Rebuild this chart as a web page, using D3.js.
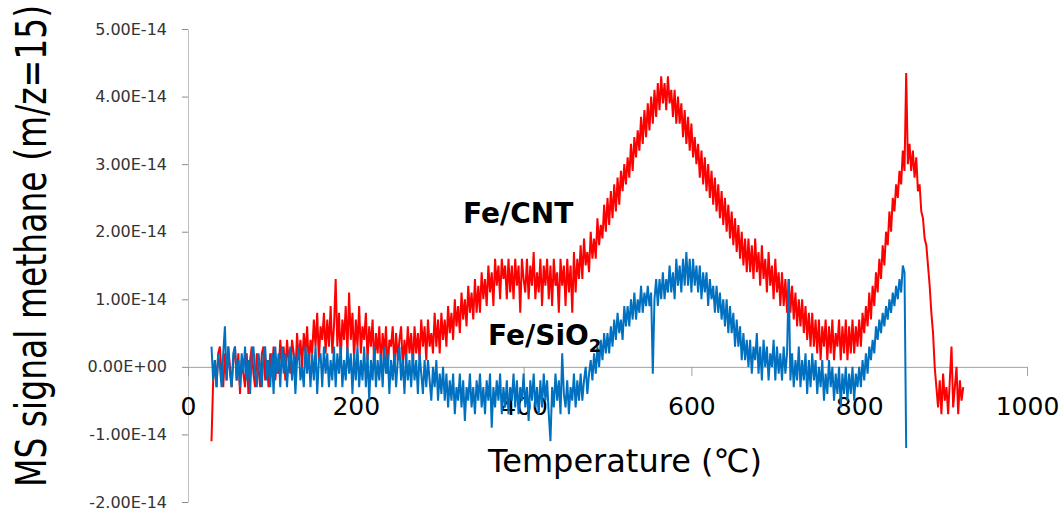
<!DOCTYPE html>
<html>
<head>
<meta charset="utf-8">
<script src="https://cdn.jsdelivr.net/npm/d3@7"></script>
<style>
  body { margin: 0; background: #fff; }
  svg { display: block; }
</style>
</head>
<body>
<svg id="chart"></svg>
<script>
// tick labels
const xTicks = [0, 200, 400, 600, 800, 1000];
const yTicks = [5, 4, 3, 2, 1, 0, -1, -2];
const yTickLabels = ["5.00E-14", "4.00E-14", "3.00E-14", "2.00E-14", "1.00E-14", "0.00E+00", "-1.00E-14", "-2.00E-14"];

// signal in units of 1E-14, read every 2 °C starting at 28 °C
const tempStart = 28, tempStep = 2;

const cntValues = [
  -1.1, -0.2, 0.1, -0.3, 0.2, 0.3, -0.1, -0.3, 0.2, -0.2, 0.3, 0.0, -0.3, 0.1, 0.3, -0.2, 0.2, -0.4, 0.1, -0.1,
  -0.3, 0.2, -0.4, 0.1, 0.3, -0.1, -0.3, 0.2, 0.0, -0.3, 0.2, 0.3, -0.2, 0.1, -0.3, 0.2, -0.1, 0.3, -0.2, 0.1,
  -0.1, 0.4, 0.0, 0.3, -0.2, 0.4, 0.1, -0.1, 0.4, 0.2, -0.1, 0.5, 0.1, 0.4, 0.0, 0.5, 0.2, 0.6, 0.0, 0.4,
  0.2, 0.7, 0.3, 0.8, 0.1, 0.6, 0.4, 0.8, 0.2, 0.7, 0.3, 0.9, 0.2, 0.6, 1.3, 0.3, 0.8, 0.1, 0.7, 0.4,
  0.9, 0.2, 1.1, 0.4, 0.8, 0.1, 0.7, 0.3, 0.9, 0.2, 0.6, 0.4, 0.8, 0.1, 0.6, 0.3, 0.7, 0.0, 0.5, 0.2,
  0.6, 0.0, 0.5, 0.2, 0.6, -0.1, 0.4, 0.3, 0.6, 0.0, 0.5, 0.1, 0.4, 0.6, 0.0, 0.4, 0.1, 0.6, 0.2, 0.5,
  0.0, 0.6, 0.2, 0.5, 0.1, 0.7, 0.3, 0.6, 0.1, 0.7, 0.3, 0.5, 0.2, 0.8, 0.3, 0.7, 0.2, 0.8, 0.4, 0.7,
  0.3, 0.9, 0.5, 0.8, 0.4, 1.0, 0.6, 0.9, 0.5, 1.1, 0.7, 1.0, 0.6, 1.2, 0.8, 1.1, 0.7, 1.3, 0.8, 1.2,
  0.8, 1.4, 1.0, 1.3, 0.9, 1.5, 1.1, 1.4, 0.9, 1.6, 1.2, 1.5, 1.0, 1.6, 1.3, 1.5, 1.0, 1.6, 1.1, 1.5,
  1.0, 1.6, 1.2, 1.5, 0.8, 1.6, 1.3, 1.1, 1.6, 1.0, 1.5, 1.2, 1.7, 1.0, 1.4, 1.1, 1.6, 0.9, 1.5, 1.2,
  1.6, 1.0, 1.5, 0.9, 1.6, 1.2, 1.4, 0.8, 1.6, 1.2, 1.5, 0.9, 1.6, 1.1, 1.5, 0.8, 1.7, 1.1, 1.6, 1.3,
  1.8, 1.3, 1.9, 1.5, 1.7, 1.4, 2.0, 1.6, 1.9, 1.6, 2.2, 1.8, 2.1, 1.9, 2.4, 2.0, 2.5, 2.1, 2.6, 2.2,
  2.7, 2.3, 2.8, 2.4, 2.9, 2.6, 3.0, 2.7, 3.1, 2.8, 3.3, 2.9, 3.4, 3.1, 3.5, 3.2, 3.7, 3.3, 3.8, 3.4,
  3.9, 3.5, 4.0, 3.6, 4.1, 3.7, 4.2, 3.8, 4.3, 3.9, 4.2, 3.8, 4.3, 3.9, 4.1, 3.7, 4.1, 3.6, 4.0, 3.6,
  3.9, 3.4, 3.8, 3.3, 3.7, 3.2, 3.6, 3.1, 3.4, 3.0, 3.3, 2.8, 3.2, 2.7, 3.1, 2.6, 3.0, 2.5, 2.9, 2.4,
  2.8, 2.3, 2.7, 2.2, 2.6, 2.1, 2.5, 2.0, 2.4, 1.9, 2.3, 1.8, 2.2, 1.7, 2.1, 1.6, 2.0, 1.5, 1.9, 1.4,
  1.9, 1.4, 1.8, 1.3, 1.9, 1.4, 1.7, 1.2, 1.8, 1.3, 1.6, 1.1, 1.7, 1.2, 1.5, 1.0, 1.6, 1.1, 1.4, 0.9,
  1.4, 0.9, 1.3, 0.8, 1.3, 0.8, 1.2, 0.7, 1.1, 0.6, 1.0, 0.6, 1.0, 0.5, 0.9, 0.4, 0.8, 0.3, 0.8, 0.3,
  0.7, 0.2, 0.7, 0.1, 0.6, 0.3, 0.7, 0.1, 0.6, 0.2, 0.7, 0.1, 0.5, 0.3, 0.7, 0.1, 0.6, 0.2, 0.7, 0.1,
  0.6, 0.2, 0.7, 0.2, 0.6, 0.3, 0.7, 0.3, 0.8, 0.5, 0.9, 0.6, 1.1, 0.7, 1.2, 0.9, 1.4, 1.1, 1.6, 1.3,
  1.8, 1.5, 2.0, 1.8, 2.3, 2.0, 2.5, 2.3, 2.7, 2.5, 2.9, 2.7, 3.2, 2.9, 4.35, 3.0, 3.3, 2.9, 3.2, 2.8,
  3.1, 2.6, 2.7, 2.3, 2.2, 1.9, 1.8, 1.5, 1.2, 0.8, 0.5, 0.0, -0.3, -0.6, -0.2, -0.7, -0.1, -0.5, -0.3, -0.7,
  -0.2, 0.3, -0.6, -0.3, 0.0, -0.7, -0.2, -0.5, -0.3
];

const sioValues = [
  0.3, -0.2, 0.1, -0.3, 0.2, 0.0, -0.3, 0.2, 0.6, -0.2, 0.3, -0.1, -0.3, 0.2, 0.3, -0.2, 0.1, -0.3, 0.2, -0.1,
  0.3, -0.2, 0.1, -0.4, 0.2, 0.3, -0.1, -0.3, 0.2, 0.0, -0.3, 0.2, 0.3, -0.2, 0.1, -0.3, 0.2, -0.4, 0.3, -0.1,
  0.2, -0.3, 0.3, -0.1, 0.2, -0.3, 0.1, 0.3, -0.2, 0.2, -0.4, 0.1, 0.3, -0.2, 0.0, -0.3, 0.3, -0.1, 0.2, -0.3,
  0.2, -0.2, 0.3, -0.4, 0.1, 0.2, -0.3, 0.3, -0.1, 0.2, -0.3, 0.1, -0.2, 0.3, -0.3, 0.2, -0.1, 0.3, -0.3, 0.1,
  -0.2, 0.3, -0.1, 0.2, -0.4, 0.2, -0.2, 0.3, -0.3, 0.1, -0.2, 0.3, -0.3, 0.2, -0.5, 0.1, -0.2, 0.3, -0.3, 0.1,
  -0.2, 0.2, -0.3, 0.3, -0.1, 0.2, -0.4, 0.1, -0.2, 0.2, -0.3, 0.1, 0.3, -0.2, 0.1, -0.4, 0.2, -0.2, 0.1, -0.3,
  0.2, -0.2, 0.1, -0.4, 0.2, -0.1, -0.4, 0.1, -0.3, 0.1, -0.2, -0.5, 0.0, -0.3, 0.1, -0.5, -0.1, -0.4, 0.0, -0.5,
  -0.1, -0.6, -0.2, -0.5, -0.1, -0.7, -0.3, -0.5, -0.1, -0.6, -0.2, -0.8, -0.3, -0.5, -0.1, -0.6, -0.3, -0.7, -0.2, -0.5,
  -0.1, -0.6, -0.3, -0.7, -0.2, -0.5, -0.1, -0.9, -0.3, -0.6, -0.2, -0.5, -0.1, -0.7, -0.3, -0.6, -0.2, -0.7, -0.3, -0.5,
  -0.1, -0.6, -0.2, -0.7, -0.3, -0.5, -0.1, -0.6, -0.3, -0.8, -0.2, -0.5, -0.1, -0.6, -0.3, -0.7, -0.2, -0.6, -0.1, -0.5,
  -0.2, -0.7, -1.1, -0.3, -0.6, -0.1, -0.5, -0.2, -0.7, 0.2, -0.4, -0.6, -0.2, -0.7, -0.3, -0.5, -0.1, -0.6, -0.2, -0.5,
  -0.1, -0.5, -0.2, 0.0, -0.4, -0.1, 0.1, -0.2, 0.2, -0.1, 0.3, 0.0, 0.4, 0.1, 0.5, 0.2, 0.5, 0.2, 0.6, 0.3,
  0.7, 0.4, 0.8, 0.5, 0.7, 0.4, 0.9, 0.6, 0.9, 0.6, 1.0, 0.7, 1.1, 0.7, 1.0, 0.8, 1.2, 0.8, 1.1, 0.9,
  1.2, 0.9, 1.1, -0.1, 1.0, 1.3, 0.9, 1.3, 1.0, 1.4, 1.0, 1.3, 1.1, 1.5, 1.1, 1.4, 1.0, 1.6, 1.2, 1.5,
  1.1, 1.6, 1.2, 1.7, 1.2, 1.6, 1.1, 1.6, 1.2, 1.5, 1.1, 1.5, 1.0, 1.4, 1.1, 1.4, 0.9, 1.3, 1.0, 1.2,
  0.8, 1.2, 0.8, 1.1, 0.7, 1.0, 0.6, 1.0, 0.5, 0.9, 0.5, 0.8, 0.3, 0.7, 0.3, 0.6, 0.1, 0.5, 0.1, 0.4,
  0.0, 0.4, -0.1, 0.3, 0.1, 0.5, -0.1, 0.3, -0.2, 0.4, 0.0, 0.3, -0.2, 0.2, 0.0, 0.4, -0.2, 0.3, -0.1, 0.2,
  -0.2, 0.3, -0.1, 0.2, 1.3, -0.2, 0.2, -0.3, 0.1, -0.2, 0.3, -0.3, 0.1, -0.2, 0.2, -0.4, 0.1, -0.3, 0.2, -0.2,
  0.1, -0.4, 0.0, -0.3, 0.1, -0.5, -0.1, -0.4, 0.1, -0.3, 0.0, -0.5, -0.1, -0.4, 0.0, -0.6, -0.1, -0.4, 0.0, -0.5,
  -0.1, -0.4, 0.0, -0.5, -0.1, -0.3, 0.0, -0.3, 0.1, -0.2, 0.2, -0.1, 0.3, 0.1, 0.4, 0.2, 0.6, 0.4, 0.7, 0.5,
  0.8, 0.6, 0.9, 0.7, 1.0, 0.8, 1.1, 0.9, 1.2, 1.0, 1.3, 1.1, 1.5, 1.4, -1.2
];

const width = 1063, height = 511;
const svg = d3.select("#chart")
  .attr("width", width)
  .attr("height", height);

const x = d3.scaleLinear().domain([0, 1000]).range([188, 1027]);
const y = d3.scaleLinear().domain([-2, 5]).range([502, 29]);

// y axis
const yAxis = svg.append("g")
  .attr("transform", `translate(${x(0)},0)`)
  .call(d3.axisLeft(y)
    .tickValues(yTicks)
    .tickSizeInner(6)
    .tickSizeOuter(0)
    .tickPadding(15)
    .tickFormat((d, i) => yTickLabels[i]));
yAxis.select(".domain").attr("stroke", "#bfbfbf");
yAxis.selectAll(".tick line").attr("stroke", "#8c8c8c");
yAxis.selectAll(".tick text")
  .attr("font-family", "DejaVu Sans")
  .attr("font-size", 16)
  .attr("fill", "#333");

// x axis on the zero line
const xAxis = svg.append("g")
  .attr("transform", `translate(0,${y(0)})`)
  .call(d3.axisBottom(x)
    .tickValues(xTicks)
    .tickSizeInner(9)
    .tickSizeOuter(0)
    .tickFormat(d3.format("d")));
xAxis.select(".domain").attr("stroke", "#a0a0a0");
xAxis.selectAll(".tick line").attr("stroke", "#a0a0a0");
xAxis.selectAll(".tick text")
  .attr("font-family", "DejaVu Sans")
  .attr("font-size", 25)
  .attr("fill", "#000")
  .attr("y", 48)
  .attr("dy", 0);

// series
const line = d3.line()
  .x((d, i) => x(tempStart + i * tempStep))
  .y(d => y(d));

svg.append("path")
  .datum(cntValues)
  .attr("fill", "none")
  .attr("stroke", "#ff0000")
  .attr("stroke-width", 2)
  .attr("d", line);

svg.append("path")
  .datum(sioValues)
  .attr("fill", "none")
  .attr("stroke", "#0070c0")
  .attr("stroke-width", 2)
  .attr("d", line);

// axis titles
svg.append("text")
  .attr("transform", "translate(46,246) scale(1.3,1) rotate(-90)")
  .attr("text-anchor", "middle")
  .attr("font-family", "DejaVu Sans")
  .attr("font-size", 33)
  .attr("fill", "#000")
  .text("MS signal methane (m/z=15)");

svg.append("text")
  .attr("x", 625)
  .attr("y", 472)
  .attr("text-anchor", "middle")
  .attr("font-family", "DejaVu Sans")
  .attr("font-size", 32)
  .attr("fill", "#000")
  .text("Temperature (\u2103)");

// series labels
svg.append("text")
  .attr("x", 463)
  .attr("y", 223)
  .attr("font-family", "DejaVu Sans")
  .attr("font-weight", "bold")
  .attr("font-size", 28)
  .attr("fill", "#000")
  .text("Fe/CNT");

const sio = svg.append("text")
  .attr("x", 488)
  .attr("y", 345)
  .attr("font-family", "DejaVu Sans")
  .attr("font-weight", "bold")
  .attr("font-size", 28)
  .attr("fill", "#000");
sio.append("tspan").text("Fe/SiO");
sio.append("tspan").attr("font-size", 18).attr("dy", 7).text("2");
</script>
</body>
</html>
